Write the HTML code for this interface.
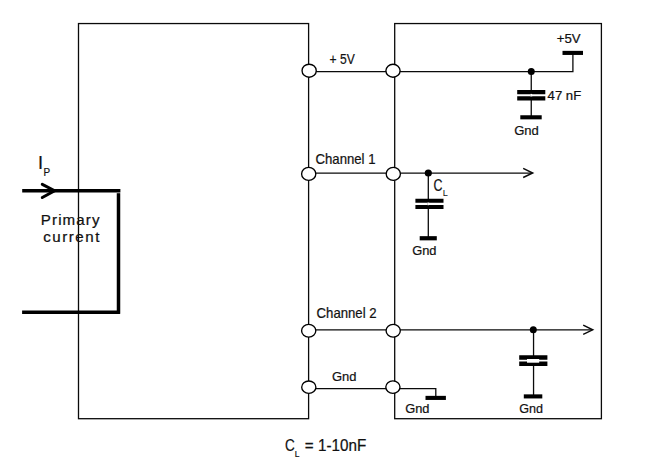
<!DOCTYPE html>
<html lang="en">
<head>
<meta charset="utf-8">
<title>Connection diagram</title>
<style>
html,body{margin:0;padding:0;background:#fff;}
body{width:650px;height:468px;overflow:hidden;}
svg{display:block;}
text{font-family:"Liberation Sans",sans-serif;fill:#111;stroke:#111;stroke-width:0.22;}
.t{stroke:#0a0a0a;stroke-width:1.3;fill:none;}
.k{stroke:#000;stroke-width:3.5;fill:none;}
.p{stroke:#000;stroke-width:4.1;fill:none;}
.c{stroke:#000;stroke-width:1.35;fill:#fff;}
</style>
</head>
<body>
<svg width="650" height="468" viewBox="0 0 650 468">
<rect x="0" y="0" width="650" height="468" fill="#fff"/>

<!-- boxes -->
<rect class="t" x="78.5" y="23.55" width="230.1" height="395.15"/>
<rect class="t" x="394.7" y="23.55" width="206.7" height="395.15"/>

<!-- primary current conductor -->
<path class="k" d="M22.2 190.75H120.4"/>
<path class="k" d="M118.5 193.2V313.8"/>
<path class="k" d="M22.1 312.15H119.9"/>
<path d="M42.3 184.3L54.6 190.75L42.3 197.5" fill="none" stroke="#000" stroke-width="3" stroke-linecap="round" stroke-linejoin="miter"/>

<!-- +5V row -->
<path class="t" d="M308.7 71.7H572.9V53"/>
<path class="p" d="M562.5 52.9H583"/>
<path class="t" d="M531.25 71.5V117"/>
<circle cx="531.25" cy="71.6" r="3.5" fill="#000"/>
<path class="p" d="M517.2 92.1H545.3M517.2 98.3H545.3" style="stroke-width:4.2"/>
<path d="M531.25 93.9V96.5" stroke="#fff" stroke-width="1.8"/>
<path class="p" d="M520.3 117.3H541.7"/>

<!-- channel 1 row -->
<path class="t" d="M308.7 173.1H532.3"/>
<path class="t" d="M523.2 168.3L532.7 173L523.2 177.5" style="stroke-width:1.45"/>
<path class="t" d="M428.3 173V237"/>
<circle cx="428.3" cy="173" r="3.6" fill="#000"/>
<path class="p" d="M415.4 200.7H443.5M415.4 207H443.5"/>
<path d="M428.3 202.5V205.2" stroke="#fff" stroke-width="1.6"/>
<path class="p" d="M419.7 238.25H436.8" style="stroke-width:4.2"/>

<!-- channel 2 row -->
<path class="t" d="M308.7 329.8H592.3"/>
<path class="t" d="M583.2 325.2L592.7 329.8L583.2 334.3" style="stroke-width:1.45"/>
<path class="t" d="M533.55 329.9V396"/>
<circle cx="533.3" cy="329.8" r="3.5" fill="#000"/>
<path class="p" d="M519.2 357.5H547.4M519.2 363.8H547.4" style="stroke-width:4.4"/>
<rect x="527" y="359" width="12.2" height="3.7" fill="#fff"/>
<path class="p" d="M523.8 396.4H542.3"/>

<!-- gnd row -->
<path class="t" d="M308.7 388.6H435.8V396"/>
<path class="p" d="M425.5 397.9H445.9"/>

<!-- terminals -->
<ellipse class="c" cx="309.15" cy="70.7" rx="7.1" ry="6.5"/>
<ellipse class="c" cx="393" cy="70.75" rx="7.1" ry="6.5"/>
<ellipse class="c" cx="308.7" cy="173.9" rx="7.1" ry="6.5"/>
<ellipse class="c" cx="393.3" cy="173.9" rx="7.1" ry="6.5"/>
<ellipse class="c" cx="308.7" cy="330.7" rx="7.1" ry="6.4"/>
<ellipse class="c" cx="393.2" cy="330.7" rx="7.1" ry="6.4"/>
<ellipse class="c" cx="308.8" cy="387.2" rx="7.1" ry="6.2"/>
<ellipse class="c" cx="392.9" cy="387.1" rx="7.1" ry="6.2"/>

<!-- labels -->
<text x="37.9" y="168.7" font-size="18.2">I</text>
<text transform="translate(43.6 175.6) scale(0.9 1)" font-size="11">P</text>
<text transform="translate(40.8 224.8) scale(1.08 1)" font-size="14" textLength="54.4" lengthAdjust="spacing">Primary</text>
<text transform="translate(43.2 241.7) scale(1.08 1)" font-size="14" textLength="52" lengthAdjust="spacing">current</text>

<text x="329.6" y="63.8" font-size="14" textLength="25.2" lengthAdjust="spacingAndGlyphs">+ 5V</text>
<text x="315.5" y="163.7" font-size="14.2" textLength="60" lengthAdjust="spacingAndGlyphs">Channel 1</text>
<text x="316.6" y="318.3" font-size="14.2" textLength="60" lengthAdjust="spacingAndGlyphs">Channel 2</text>
<text x="332" y="380.8" font-size="13.3" textLength="24.5" lengthAdjust="spacingAndGlyphs">Gnd</text>

<text x="556.8" y="42.7" font-size="12.4" textLength="23.8" lengthAdjust="spacingAndGlyphs">+5V</text>
<text x="547.6" y="99.8" font-size="12.6" textLength="33.6" lengthAdjust="spacingAndGlyphs">47 nF</text>
<text x="514.2" y="134.9" font-size="13.7" textLength="24.7" lengthAdjust="spacingAndGlyphs">Gnd</text>
<text x="433.6" y="190.5" font-size="16" textLength="9" lengthAdjust="spacingAndGlyphs">C</text>
<text x="442.8" y="196" font-size="9.2" style="stroke-width:0">L</text>
<text x="412.2" y="255.2" font-size="13.3" textLength="24.3" lengthAdjust="spacingAndGlyphs">Gnd</text>
<text x="405.2" y="413.3" font-size="13.3" textLength="24.3" lengthAdjust="spacingAndGlyphs">Gnd</text>
<text x="519.3" y="413.3" font-size="13.3" textLength="23.8" lengthAdjust="spacingAndGlyphs">Gnd</text>

<text x="285" y="451.1" font-size="15.8" textLength="9.8" lengthAdjust="spacingAndGlyphs">C</text>
<text x="294.8" y="457.2" font-size="8.4">L</text>
<text x="304.8" y="451.1" font-size="15.8" textLength="61.4" lengthAdjust="spacingAndGlyphs">= 1-10nF</text>
</svg>
</body>
</html>
